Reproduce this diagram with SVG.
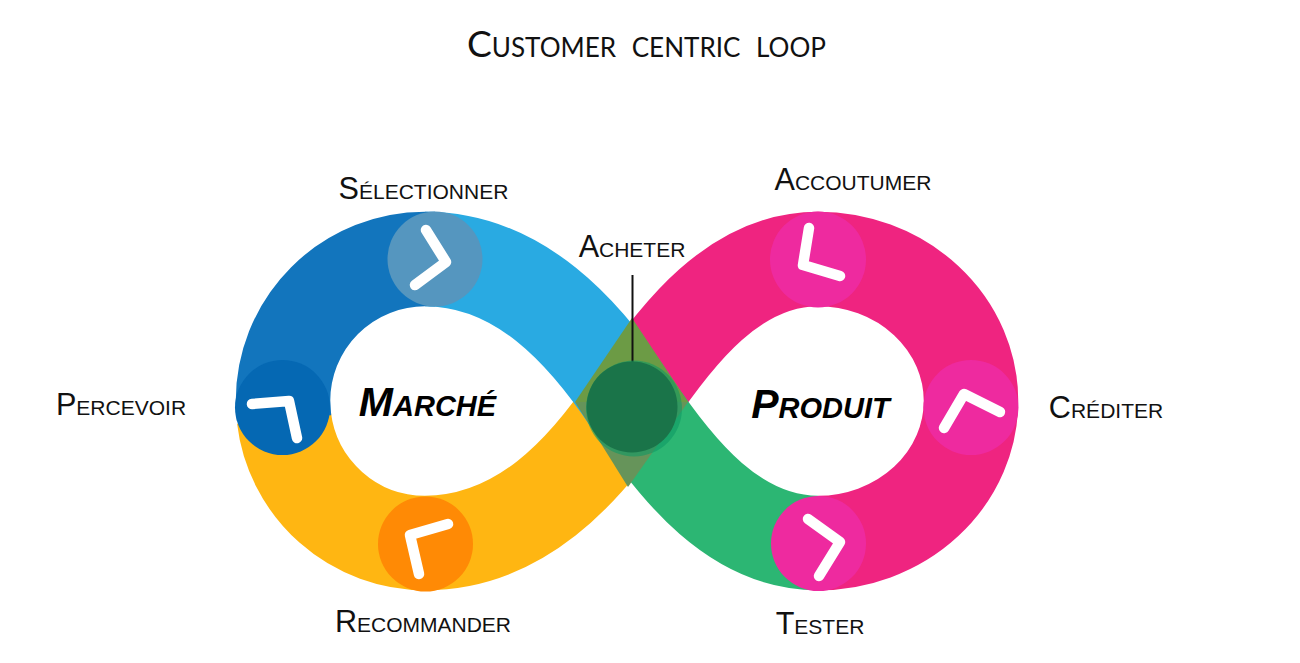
<svg xmlns="http://www.w3.org/2000/svg" width="1300" height="663" viewBox="0 0 1300 663">
<style>
.band{fill:none;stroke-width:94.5;stroke-linecap:butt}
.chev{fill:none;stroke:#fff;stroke-width:10.500;stroke-linecap:round;stroke-linejoin:round}
.lab{font-family:"Liberation Sans",Arial,sans-serif;font-variant:small-caps;font-size:30.600px;fill:#111}
.big{font-family:"Liberation Sans",Arial,sans-serif;font-variant:small-caps;font-weight:bold;font-style:italic;font-size:41px;fill:#000}
.title{font-family:Lato,"Noto Sans",sans-serif;font-variant:small-caps;font-size:37px;fill:#111;word-spacing:6px}
</style>
<rect width="1300" height="663" fill="#fff"/>
<g id="connectors">
<path class="band" stroke="#ffb612" d="M284 418A142 142 0 0 0 425 543C520 543 585 471 631 402"/>
<path class="band" stroke="#ef2480" d="M631 402C677 333 735 259 818 259A153 142 0 0 1 971 401A153 142 0 0 1 818 543"/>
<path class="band" stroke="#29aae2" d="M425 259C520 259 585 333 631 402"/>
<path class="band" stroke="#2cb673" d="M631 402C677 471 735 543 818 543"/>
<path class="band" stroke="#1275bd" d="M284 418L283 401A142 142 0 0 1 425 259H435"/>
<polygon points="575,402 632,318 688,402" fill="#6c9b45"/>
<polygon points="575,402 688,402 628,487" fill="#66945a"/>
<line x1="632.500" y1="275" x2="632.500" y2="362" stroke="#111" stroke-width="2"/>
</g>
<g id="acheter">
<circle cx="634" cy="408.500" r="48" fill="#0f9a64" opacity=".6"/>
<circle cx="632" cy="407" r="45.500" fill="#1a7449"/>
<text class="lab" x="632" y="257" text-anchor="middle">Acheter</text>
</g>
<g id="selectionner">
<circle cx="435" cy="259" r="47.500" fill="#5596bf"/>
<polyline class="chev" points="426,230 446,262 415,285"/>
<text class="lab" x="423.500" y="198.500" text-anchor="middle">Sélectionner</text>
</g>
<g id="percevoir">
<circle cx="282.500" cy="407.500" r="47.500" fill="#0568b3"/>
<polyline class="chev" points="252,404 289,401 297,438"/>
<text class="lab" x="121" y="414.500" text-anchor="middle">Percevoir</text>
</g>
<g id="recommander">
<circle cx="425.500" cy="544" r="47.500" fill="#ff8a05"/>
<polyline class="chev" points="419,574 410,535 448,524"/>
<text class="lab" x="423" y="631.500" text-anchor="middle">Recommander</text>
</g>
<g id="accoutumer">
<circle cx="818" cy="259.500" r="48" fill="#ee2a9f"/>
<polyline class="chev" points="809,228 803,265 840,276"/>
<text class="lab" x="853" y="189.500" text-anchor="middle">Accoutumer</text>
</g>
<g id="crediter">
<circle cx="971" cy="407.500" r="47.500" fill="#ee2a9f"/>
<polyline class="chev" points="944,428 964,394 1000,412"/>
<text class="lab" x="1106" y="417.500" text-anchor="middle">Créditer</text>
</g>
<g id="tester">
<circle cx="818.500" cy="543.500" r="47.500" fill="#ee2a9f"/>
<polyline class="chev" points="808,519 840,542 819,576"/>
<text class="lab" x="820" y="633.500" text-anchor="middle">Tester</text>
</g>
<g id="marche"><text class="big" x="427.500" y="415.500" text-anchor="middle">Marché</text></g>
<g id="produit"><text class="big" x="820.500" y="418" text-anchor="middle">Produit</text></g>
<text class="title" x="467" y="57" textLength="359" lengthAdjust="spacingAndGlyphs">Customer centric loop</text>
</svg>
